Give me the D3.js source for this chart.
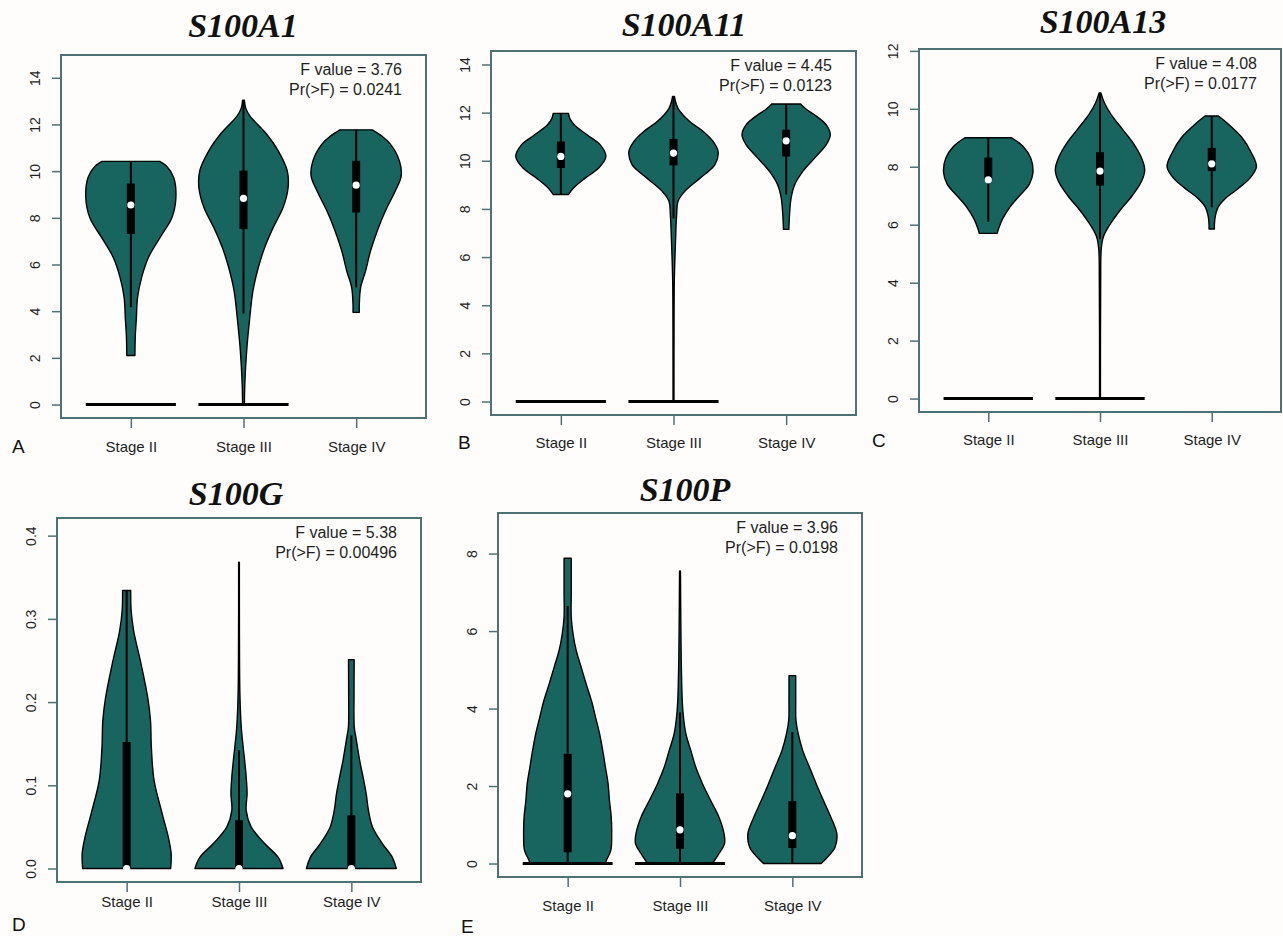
<!DOCTYPE html>
<html>
<head>
<meta charset="utf-8">
<script src="https://cdn.jsdelivr.net/npm/d3@7"></script>
<style>
  html, body { margin: 0; padding: 0; background: #fefdfc; }
  svg { display: block; }
</style>
</head>
<body>
<svg id="chart" width="1283" height="936"></svg>
<script>
// --- data ---
const stages = ['Stage II', 'Stage III', 'Stage IV'];
const genes = ['S100A1', 'S100A11', 'S100A13', 'S100G', 'S100P'];
const panelLetters = ['A', 'B', 'C', 'D', 'E'];
const fValues = ['3.76', '4.45', '4.08', '5.38', '3.96'];
const pValues = ['0.0241', '0.0123', '0.0177', '0.00496', '0.0198'];
const yLimits = [[0, 14.4], [0, 14], [0, 11.6], [0, 0.405], [0, 8.7]];
const yTicks = [
    [0, 2, 4, 6, 8, 10, 12, 14],
    [0, 2, 4, 6, 8, 10, 12, 14],
    [0, 2, 4, 6, 8, 10, 12],
    [0, 0.1, 0.2, 0.3, 0.4],
    [0, 2, 4, 6, 8]
];

// violin outlines: [value, relative half-width]
const s100a1Density = [
    [[2.1,0.09],[3.0,0.1],[3.6,0.12],[4.6,0.15],[5.45,0.24],[6.3,0.39],[7.16,0.65],[8.0,0.91],[8.87,1.0],[9.73,0.95],[10.2,0.8],[10.42,0.64]],
    [[0,0.02],[0.9,0.03],[2.3,0.07],[3.74,0.14],[4.88,0.21],[5.88,0.33],[6.73,0.47],[7.59,0.66],[8.45,0.88],[9.3,0.99],[10.02,0.97],[10.87,0.77],[11.59,0.51],[12.37,0.14],[12.7,0.05],[13.04,0.02]],
    [[3.95,0.07],[4.3,0.07],[5.02,0.1],[5.73,0.21],[6.59,0.32],[7.45,0.47],[8.3,0.65],[9.16,0.87],[9.8,1.0],[10.44,0.96],[11.16,0.76],[11.5,0.57],[11.77,0.36]]
];
const s100a11Density = [
    [[8.6,0.17],[8.87,0.28],[9.28,0.54],[9.7,0.84],[10.18,1.0],[10.67,0.87],[11.08,0.58],[11.49,0.3],[11.75,0.2],[11.97,0.17]],
    [[0,0.01],[3,0.012],[5,0.018],[6.4,0.04],[7.77,0.07],[8.32,0.1],[8.73,0.25],[9.28,0.59],[9.84,0.92],[10.39,0.99],[10.8,0.88],[11.22,0.66],[11.63,0.36],[12.18,0.1],[12.67,0.02]],
    [[7.15,0.06],[7.77,0.075],[8.46,0.11],[9.01,0.19],[9.56,0.37],[10.11,0.63],[10.67,0.89],[11.08,0.98],[11.49,0.89],[11.91,0.63],[12.15,0.44],[12.36,0.32]]
];
const s100a13Density = [
    [[5.7,0.2],[5.9,0.24],[6.2,0.32],[6.6,0.48],[7.0,0.7],[7.4,0.92],[7.8,1.0],[8.3,0.95],[8.7,0.78],[9.0,0.52]],
    [[0,0.01],[4,0.015],[5.2,0.03],[5.6,0.08],[6.0,0.22],[6.5,0.45],[7.0,0.72],[7.5,0.93],[7.9,1.0],[8.3,0.93],[8.8,0.75],[9.3,0.5],[9.8,0.25],[10.2,0.1],[10.55,0.02]],
    [[5.85,0.06],[6.0,0.06],[6.3,0.08],[6.6,0.14],[6.9,0.3],[7.2,0.55],[7.6,0.85],[8.0,1.0],[8.5,0.88],[9.0,0.68],[9.5,0.35],[9.75,0.15]]
];
const s100gDensity = [
    [[0,0.98],[0.018,0.99],[0.037,0.93],[0.066,0.79],[0.106,0.61],[0.145,0.55],[0.178,0.53],[0.205,0.47],[0.246,0.32],[0.286,0.155],[0.31,0.1],[0.334,0.09]],
    [[0,0.98],[0.0136,0.87],[0.03,0.57],[0.05,0.27],[0.07,0.16],[0.09,0.18],[0.11,0.16],[0.13,0.125],[0.17,0.05],[0.21,0.02],[0.28,0.01],[0.368,0.008]],
    [[0,1.0],[0.0136,0.91],[0.03,0.69],[0.05,0.47],[0.07,0.38],[0.09,0.33],[0.11,0.26],[0.13,0.185],[0.158,0.1],[0.17,0.065],[0.21,0.06],[0.251,0.063]]
];
const s100pDensity = [
    [[0,0.84],[0.08,0.86],[0.34,0.96],[0.77,0.98],[1.19,0.97],[1.63,0.93],[2.06,0.9],[2.49,0.84],[2.92,0.78],[3.35,0.71],[3.78,0.62],[4.2,0.53],[4.64,0.41],[5.07,0.3],[5.5,0.19],[5.93,0.12],[6.36,0.08],[7.0,0.08],[7.88,0.08]],
    [[0,0.72],[0.26,0.87],[0.51,0.99],[0.77,0.98],[1.19,0.87],[1.63,0.68],[2.06,0.5],[2.49,0.35],[2.92,0.24],[3.35,0.13],[3.86,0.07],[4.2,0.05],[5.07,0.03],[6.0,0.02],[7.55,0.01]],
    [[0,0.64],[0.16,0.78],[0.42,0.95],[0.77,0.99],[1.19,0.86],[1.63,0.69],[2.06,0.53],[2.49,0.38],[2.92,0.23],[3.35,0.13],[3.7,0.08],[4.2,0.075],[4.85,0.075]]
];

// box stats: [whisker low, q1, median, q3, whisker high]
const s100a1Box = [[4.17,7.31,8.55,9.47,10.42],[3.9,7.52,8.83,10.02,13.04],[5.02,8.23,9.4,10.44,11.77]];
const s100a11Box = [[8.6,9.7,10.18,10.8,11.97],[7.6,9.81,10.32,10.91,12.67],[8.6,10.18,10.83,11.29,12.36]];
const s100a13Box = [[6.1,7.55,7.55,8.32,9.0],[5.5,7.35,7.85,8.5,10.5],[6.6,7.85,8.1,8.65,9.75]];
const s100gBox = [[0,0,0,0.152,0.334],[0,0,0,0.058,0.142],[0,0,0,0.064,0.16]];
const s100pBox = [[0,0.29,1.8,2.83,6.65],[0,0.38,0.87,1.81,3.9],[0,0.4,0.72,1.61,3.39]];

// groups that carry a separate block of zero values
const s100a1Zero = [true, true, false];
const s100a11Zero = [true, true, false];
const s100a13Zero = [true, true, false];
const s100gZero = [false, false, false];
const s100pZero = [true, true, false];

const densities = [s100a1Density, s100a11Density, s100a13Density, s100gDensity, s100pDensity];
const boxes = [s100a1Box, s100a11Box, s100a13Box, s100gBox, s100pBox];
const zeros = [s100a1Zero, s100a11Zero, s100a13Zero, s100gZero, s100pZero];

// --- layout ---
const layout = [
    { left: 61,  top: 55,  right: 426,  bottom: 418, titleX: 243,  titleY: 37,  letterX: 12,  letterY: 453, labelDy: 34 },
    { left: 491, top: 51,  right: 856,  bottom: 415, titleX: 684,  titleY: 36,  letterX: 458, letterY: 449, labelDy: 33 },
    { left: 919, top: 49,  right: 1281, bottom: 412, titleX: 1103, titleY: 33,  letterX: 872, letterY: 447, labelDy: 33 },
    { left: 57,  top: 518, right: 421,  bottom: 882, titleX: 236,  titleY: 505, letterX: 12,  letterY: 931, labelDy: 25 },
    { left: 498, top: 513, right: 862,  bottom: 877, titleX: 685,  titleY: 501, letterX: 461, letterY: 933, labelDy: 34 }
];

const fillColor = '#18645f';
const frameColor = '#4f7174';
const textColor = '#1f1f1f';
const halfW = 0.4;

const svg = d3.select('#chart');

function drawPanel(i) {
    const L = layout[i];
    const g = svg.append('g');

    const x = d3.scaleLinear().domain([0.38, 3.62]).range([L.left, L.right]);
    const [lo, hi] = yLimits[i];
    const pad = (hi - lo) * 0.04;
    const y = d3.scaleLinear().domain([lo - pad, hi + pad]).range([L.bottom, L.top]);

    // y axis
    const yAxis = d3.axisLeft(y)
        .tickValues(yTicks[i])
        .tickSize(9)
        .tickPadding(0)
        .tickFormat(i === 3 ? d3.format('.1f') : d3.format('d'));
    const ya = g.append('g').attr('transform', `translate(${L.left},0)`).call(yAxis);
    ya.select('.domain').remove();
    ya.selectAll('line').attr('stroke', frameColor).attr('stroke-width', 1.5);
    ya.selectAll('text')
        .attr('x', null).attr('dy', null)
        .attr('transform', 'translate(-21,0) rotate(-90)')
        .attr('text-anchor', 'middle')
        .attr('fill', textColor)
        .style('font-family', 'Liberation Sans, Arial, sans-serif')
        .style('font-size', '14px');

    // x axis
    const xAxis = d3.axisBottom(x)
        .tickValues([1, 2, 3])
        .tickSize(10)
        .tickPadding(0)
        .tickFormat(d => stages[d - 1]);
    const xa = g.append('g').attr('transform', `translate(0,${L.bottom})`).call(xAxis);
    xa.select('.domain').remove();
    xa.selectAll('line').attr('stroke', frameColor).attr('stroke-width', 1.5);
    xa.selectAll('text')
        .attr('y', L.labelDy).attr('dy', null)
        .attr('fill', textColor)
        .style('font-family', 'Liberation Sans, Arial, sans-serif')
        .style('font-size', '15px');

    const area = d3.area()
        .curve(d3.curveCatmullRom.alpha(0.5))
        .y(d => y(d[0]));

    stages.forEach((s, k) => {
        const c = k + 1;
        const vg = g.append('g');

        vg.append('path')
            .datum(densities[i][k])
            .attr('d', area.x0(d => x(c - d[1] * halfW)).x1(d => x(c + d[1] * halfW)))
            .attr('fill', fillColor)
            .attr('stroke', '#000')
            .attr('stroke-width', 1.4)
            .attr('stroke-linejoin', 'round');

        if (zeros[i][k]) {
            vg.append('line')
                .attr('x1', x(c - halfW)).attr('x2', x(c + halfW))
                .attr('y1', y(0)).attr('y2', y(0))
                .attr('stroke', '#000')
                .attr('stroke-width', 3);
        }

        const b = boxes[i][k];
        vg.append('line')
            .attr('x1', x(c)).attr('x2', x(c))
            .attr('y1', y(b[0])).attr('y2', y(b[4]))
            .attr('stroke', '#000')
            .attr('stroke-width', 2);
        vg.append('rect')
            .attr('x', x(c) - 4)
            .attr('width', 8)
            .attr('y', y(b[3]))
            .attr('height', Math.max(0, y(b[1]) - y(b[3])))
            .attr('fill', '#000');
        vg.append('circle')
            .attr('cx', x(c))
            .attr('cy', y(b[2]))
            .attr('r', 3.6)
            .attr('fill', '#fff');
    });

    // frame
    g.append('rect')
        .attr('x', L.left).attr('y', L.top)
        .attr('width', L.right - L.left).attr('height', L.bottom - L.top)
        .attr('fill', 'none')
        .attr('stroke', frameColor)
        .attr('stroke-width', 2);

    // stats text
    const st = g.append('g')
        .style('font-family', 'Liberation Sans, Arial, sans-serif')
        .style('font-size', '16px')
        .attr('fill', textColor)
        .attr('text-anchor', 'end');
    st.append('text').attr('x', L.right - 24).attr('y', L.top + 20).text(`F value = ${fValues[i]}`);
    st.append('text').attr('x', L.right - 24).attr('y', L.top + 40).text(`Pr(>F) = ${pValues[i]}`);

    // title
    g.append('text')
        .attr('x', L.titleX).attr('y', L.titleY)
        .attr('text-anchor', 'middle')
        .style('font-family', 'Liberation Serif, Times New Roman, serif')
        .style('font-weight', 'bold')
        .style('font-style', 'italic')
        .style('font-size', '34px')
        .attr('fill', '#111')
        .text(genes[i]);

    // panel letter
    g.append('text')
        .attr('x', L.letterX).attr('y', L.letterY)
        .style('font-family', 'Liberation Sans, Arial, sans-serif')
        .style('font-size', '19px')
        .attr('fill', '#111')
        .text(panelLetters[i]);
}

genes.forEach((_, i) => drawPanel(i));
</script>
</body>
</html>
